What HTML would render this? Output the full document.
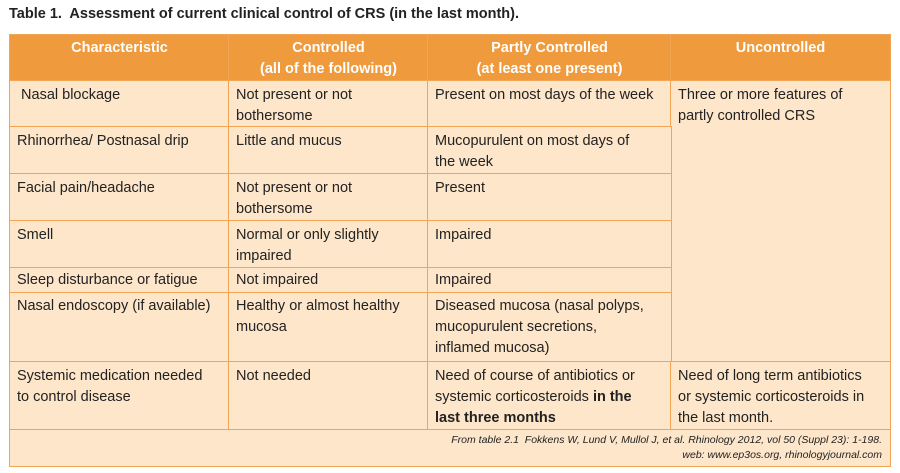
<!DOCTYPE html>
<html><head><style>
body{margin:0;width:900px;height:473px;background:#fff;font-family:"Liberation Sans",sans-serif;color:#222;position:relative;overflow:hidden}
.t{position:absolute;left:9px;top:6px;font-size:14.5px;font-weight:bold;color:#222}
.c{position:absolute;box-sizing:border-box;background:#fde6ca;border:1.5px solid #f2a554;font-size:14.5px;line-height:21px;padding:4px 7px;color:#222}
.h{background:#ef9a3c;color:#fff;font-weight:bold;text-align:center;padding-top:3px;line-height:21px}
.f{font-size:10.5px;font-style:italic;text-align:right;line-height:15px;padding:3px 8px 0 0}
</style></head><body>
<div class="t">Table 1.&nbsp; Assessment of current clinical control of CRS (in the last month).</div>
<div class="c h" style="left:9px;top:34px;width:221px;height:48px">Characteristic</div>
<div class="c h" style="left:228px;top:34px;width:201px;height:48px">Controlled<br>(all of the following)</div>
<div class="c h" style="left:427px;top:34px;width:245px;height:48px">Partly Controlled<br>(at least one present)</div>
<div class="c h" style="left:670px;top:34px;width:221px;height:48px">Uncontrolled</div>

<div class="c" style="left:9px;top:80px;width:221px;height:48px">&nbsp;Nasal blockage</div>
<div class="c" style="left:228px;top:80px;width:201px;height:48px">Not present or not<br>bothersome</div>
<div class="c" style="left:427px;top:80px;width:245px;height:48px">Present on most days of the week</div>
<div class="c" style="left:670px;top:80px;width:221px;height:283px">Three or more features of<br>partly controlled CRS</div>

<div class="c" style="left:9px;top:126px;width:221px;height:49px">Rhinorrhea/ Postnasal drip</div>
<div class="c" style="left:228px;top:126px;width:201px;height:49px">Little and mucus</div>
<div class="c" style="left:427px;top:126px;width:245px;height:49px">Mucopurulent on most days of<br>the week</div>

<div class="c" style="left:9px;top:173px;width:221px;height:49px">Facial pain/headache</div>
<div class="c" style="left:228px;top:173px;width:201px;height:49px">Not present or not<br>bothersome</div>
<div class="c" style="left:427px;top:173px;width:245px;height:49px">Present</div>

<div class="c" style="left:9px;top:220px;width:221px;height:49px">Smell</div>
<div class="c" style="left:228px;top:220px;width:201px;height:49px">Normal or only slightly<br>impaired</div>
<div class="c" style="left:427px;top:220px;width:245px;height:49px">Impaired</div>

<div class="c" style="left:9px;top:267px;width:221px;height:27px;padding-top:2px">Sleep disturbance or fatigue</div>
<div class="c" style="left:228px;top:267px;width:201px;height:27px;padding-top:2px">Not impaired</div>
<div class="c" style="left:427px;top:267px;width:245px;height:27px;padding-top:2px">Impaired</div>

<div class="c" style="left:9px;top:292px;width:221px;height:71px;padding-top:3px">Nasal endoscopy (if available)</div>
<div class="c" style="left:228px;top:292px;width:201px;height:71px;padding-top:3px">Healthy or almost healthy<br>mucosa</div>
<div class="c" style="left:427px;top:292px;width:245px;height:71px;padding-top:3px">Diseased mucosa (nasal polyps,<br>mucopurulent secretions,<br>inflamed mucosa)</div>

<div class="c" style="left:9px;top:361px;width:221px;height:70px">Systemic medication needed<br>to control disease</div>
<div class="c" style="left:228px;top:361px;width:201px;height:70px">Not needed</div>
<div class="c" style="left:427px;top:361px;width:245px;height:70px">Need of course of antibiotics or<br>systemic corticosteroids <b>in the<br>last three months</b></div>
<div class="c" style="left:670px;top:361px;width:221px;height:70px">Need of long term antibiotics<br>or systemic corticosteroids in<br>the last month.</div>

<div class="c f" style="left:9px;top:429px;width:882px;height:38px">From table 2.1&nbsp; Fokkens W, Lund V, Mullol J, et al. Rhinology 2012, vol 50 (Suppl 23): 1-198.<br>web: www.ep3os.org, rhinologyjournal.com</div>
</body></html>
